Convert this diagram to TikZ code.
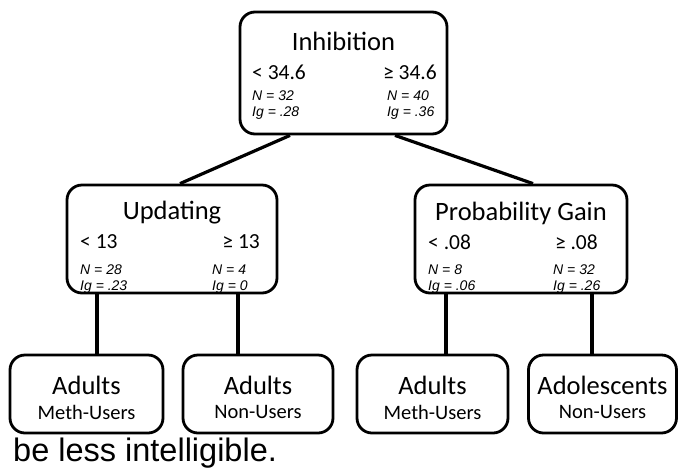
\documentclass[tikz,border=0pt]{standalone}
\usepackage{fontspec}
\setmainfont{Carlito}
\newfontfamily\arialfont{Liberation Sans}
\usetikzlibrary{calc}
\begin{document}
\begin{tikzpicture}[x=1pt,y=-1pt,
  box/.style={draw,line width=2.8pt,rounded corners=15pt,inner sep=0pt},
  conn/.style={line width=3.2pt},
  ttl/.style={font=\fontsize{26.5}{26.5}\selectfont,inner sep=0pt},
  thr/.style={font=\fontsize{21.5}{21.5}\selectfont,inner sep=0pt},
  stat/.style={font=\arialfont\itshape\fontsize{14}{16}\selectfont,inner sep=0pt,align=left},
  leaf/.style={box,minimum height=78pt},
  leafa/.style={font=\fontsize{26.5}{26.5}\selectfont,inner sep=0pt},
  leafb/.style={font=\fontsize{20.5}{20.5}\selectfont,inner sep=0pt}]
\useasboundingbox (0,0) rectangle (678,467);
% boxes
\node[box,minimum width=207pt,minimum height=122pt] (top) at (343.5,73) {};
\node[box,minimum width=210pt,minimum height=108pt] (upd) at (172,239) {};
\node[box,minimum width=212pt,minimum height=108pt] (prob) at (521,239) {};
\node[leaf,minimum width=153pt] (b1) at (86.5,394) {};
\node[leaf,minimum width=150pt] (b2) at (258,394) {};
\node[leaf,minimum width=151pt] (b3) at (432.5,394) {};
\node[leaf,minimum width=148pt] (b4) at (602.5,394) {};
% top texts
\node[ttl] (t1) at (343.5,41) {Inhibition};
\node[thr,anchor=west] (t2) at (252,72) {< 34.6};
\node[thr,anchor=east] (t3) at (437,72) {≥ 34.6};
\node[stat,anchor=west] (t4) at (252,105) {N = 32\\Ig = .28};
\node[stat,anchor=west] (t5) at (387,105) {N = 40\\Ig = .36};
% updating
\node[ttl] (u1) at (172,213) {Updating};
\node[thr,anchor=west] (u2) at (80,242) {< 13};
\node[thr,anchor=east] (u3) at (260,242) {≥ 13};
\node[stat,anchor=west] (u4) at (80,279) {N = 28\\Ig = .23};
\node[stat,anchor=west] (u5) at (212,279) {N = 4\\Ig = 0};
% probability
\node[ttl] (p1) at (521,213) {Probability Gain};
\node[thr,anchor=west] (p2) at (428,242) {< .08};
\node[thr,anchor=east] (p3) at (598,242) {≥ .08};
\node[stat,anchor=west] (p4) at (428,279) {N = 8\\Ig = .06};
\node[stat,anchor=west] (p5) at (553,279) {N = 32\\Ig = .26};
% leaves
\node[leafa] (l1a) at (86.5,385) {Adults};
\node[leafb] (l1b) at (86.5,412) {Meth-Users};
\node[leafa] (l2a) at (258,385) {Adults};
\node[leafb] (l2b) at (258,412) {Non-Users};
\node[leafa] (l3a) at (432.5,385) {Adults};
\node[leafb] (l3b) at (432.5,412) {Meth-Users};
\node[leafa] (l4a) at (602.5,385) {Adolescents};
\node[leafb] (l4b) at (602.5,412) {Non-Users};
% connectors
\draw[conn] ([xshift=-53.5pt]top.south) -- ([xshift=8pt]upd.north);
\draw[conn] ([xshift=51.5pt]top.south) -- ([xshift=12pt]prob.north);
\draw[conn] ([xshift=-75pt]upd.south) -- ([xshift=-75pt]upd.south |- b1.north);
\draw[conn] ([xshift=66pt]upd.south) -- ([xshift=66pt]upd.south |- b2.north);
\draw[conn] ([xshift=-75pt]prob.south) -- ([xshift=-75pt]prob.south |- b3.north);
\draw[conn] ([xshift=71pt]prob.south) -- ([xshift=71pt]prob.south |- b4.north);
% caption
\node[font=\arialfont\fontsize{32.5}{32.5}\selectfont,anchor=west,inner sep=0pt] (cap) at (13,453) {be less intelligible.};
\end{tikzpicture}
\end{document}
